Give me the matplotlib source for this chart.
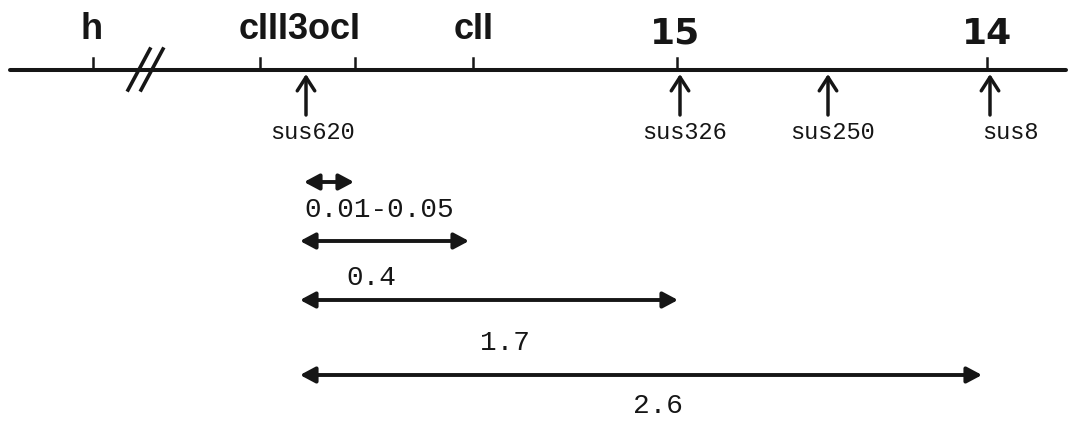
import matplotlib
matplotlib.use('Agg')
import matplotlib.pyplot as plt

# Map positions along the drawn chromosome (drawing units, left to right)
gene_ticks = [93, 260, 355, 473, 677, 987]
gene_labels = ["h", "cIII3ocI", "cII"]
gene_label_x = [92, 300, 474]
marker_labels = ["15", "14"]
marker_label_x = [675, 987]

sus_names = ["sus620", "sus326", "sus250", "sus8"]
sus_pos = [306, 680, 828, 990]
sus_label_x = [312, 684, 832, 1010]

# Distances measured from sus620 to the other markers
span_start = [304, 300, 300, 300]
span_end = [354, 469, 678, 982]
span_y = [182, 241, 300, 375]
span_values = ["0.01-0.05", "0.4", "1.7", "2.6"]
span_label_x = [379, 371, 505, 658]
span_label_y = [217, 285, 350, 413]

INK = '#161616'

fig = plt.figure(figsize=(10.75, 4.21), dpi=100)
ax = fig.add_axes([0, 0, 1, 1])
ax.set_xlim(0, 1075)
ax.set_ylim(421, 0)
ax.axis('off')

# chromosome line with a break between h and cIII
line_y = 70
ax.plot([10, 1066], [line_y, line_y], color=INK, lw=2.9, solid_capstyle='round')
for x0 in (128, 141):
    ax.plot([x0, x0 + 22], [90, 49], color=INK, lw=2.6)

for x in gene_ticks:
    ax.plot([x, x], [line_y - 12, line_y], color=INK, lw=1.8)

for lab, x in zip(gene_labels, gene_label_x):
    ax.text(x, 39, lab, ha='center', va='baseline', fontsize=26,
            family='Liberation Sans', fontweight='bold', color=INK)
for lab, x in zip(marker_labels, marker_label_x):
    ax.text(x, 44, lab, ha='center', va='baseline', fontsize=26,
            family='DejaVu Sans', fontweight='bold', color=INK)

# suppressor-sensitive mutations pointing up at the map
for name, x, lx in zip(sus_names, sus_pos, sus_label_x):
    ax.annotate('', xy=(x, line_y + 4), xytext=(x, 115),
                arrowprops=dict(arrowstyle='->,head_length=0.7,head_width=0.45',
                                mutation_scale=14, color=INK, lw=2.5,
                                shrinkA=0, shrinkB=0))
    ax.text(lx, 139, name, ha='center', va='baseline', fontsize=17,
            family='Liberation Mono', color=INK)

# recombination distances
for x0, x1, y, val, lx, ly in zip(span_start, span_end, span_y, span_values,
                                  span_label_x, span_label_y):
    ax.annotate('', xy=(x1, y), xytext=(x0, y),
                arrowprops=dict(arrowstyle='<|-|>,head_length=0.75,head_width=0.4',
                                mutation_scale=12, color=INK, lw=2.8,
                                shrinkA=0, shrinkB=0))
    ax.text(lx, ly, val, ha='center', va='baseline', fontsize=20,
            family='Liberation Mono', color=INK)

fig.savefig('out.png', dpi=100, facecolor='white')
